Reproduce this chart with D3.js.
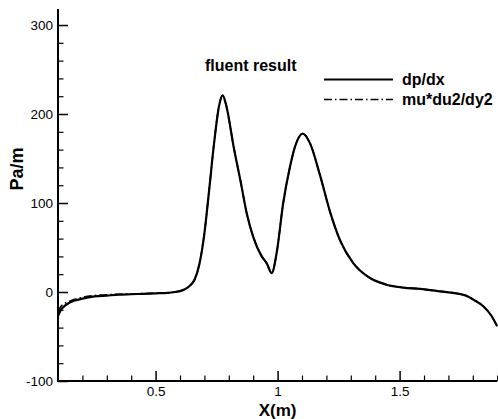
<!DOCTYPE html>
<html>
<head>
<meta charset="utf-8">
<script src="https://cdn.jsdelivr.net/npm/d3@7"></script>
<style>
  html, body { margin: 0; padding: 0; background: #fff; }
  svg { display: block; font-family: Arial, "Liberation Sans", Helvetica, sans-serif; }
</style>
</head>
<body>
<svg id="chart" width="498" height="419"></svg>
<script>
// ---- data ----
const xTicks = [0.5, 1, 1.5];
const xTickLabels = ["0.5", "1", "1.5"];
const yTicks = [-100, 0, 100, 200, 300];
const yTickLabels = ["-100", "0", "100", "200", "300"];

const xs = [0.1, 0.11, 0.13, 0.15, 0.2, 0.25, 0.3, 0.35, 0.4, 0.45, 0.5, 0.55, 0.58, 0.6, 0.62, 0.64,
  0.66, 0.68, 0.7, 0.72, 0.74, 0.76, 0.775, 0.79, 0.82, 0.85, 0.873, 0.9, 0.935, 0.955, 0.976,
  0.996, 1.023, 1.051, 1.071, 1.103, 1.133, 1.174, 1.215, 1.256, 1.31, 1.379, 1.447, 1.515,
  1.584, 1.666, 1.748, 1.78, 1.802, 1.843, 1.877, 1.9];
const dpdx = [-27, -21, -15, -11.5, -7.5, -5, -4, -3, -2.5, -2, -1.5, -1, 0, 1, 3, 7,
  14, 32, 66, 116, 168, 209, 221, 209, 163, 122, 89, 62, 40, 32.5, 21.3,
  43.7, 100, 141, 163, 178, 167, 131, 90, 58, 32.5, 15.7, 8.2, 5,
  3.5, 0.7, -2.3, -5, -8.6, -16, -27, -38.6];
const mudu2dy2 = [-22, -17, -12.5, -10, -6, -4, -3, -2.5, -2.2, -1.8, -1.4, -1, 0, 1, 3, 7,
  14, 32, 66, 116, 168, 209, 221, 209, 163, 122, 89, 62, 40, 32.5, 21.3,
  43.7, 100, 141, 163, 178, 167, 131, 90, 58, 32.5, 15.7, 8.2, 5,
  3.5, 0.7, -2.3, -5, -8.6, -16, -27, -38.6];

const seriesNames = ["dp/dx", "mu*du2/dy2"];
const titleText = "fluent result";
const xTitle = "X(m)";
const yTitle = "Pa/m";

// ---- layout ----
const svg = d3.select("#chart");
const pLeft = 58, pRight = 497.2, pTop = 9, pBottom = 381;
const x = d3.scaleLinear().domain([0.1, 1.9]).range([pLeft, pRight]);
const y = d3.scaleLinear().domain([-100, 318]).range([pBottom, pTop]);

// minor ticks
const xMinor = d3.range(0.2, 1.9001, 0.1).filter(v => !xTicks.some(t => Math.abs(t - v) < 1e-6));
const yMinor = d3.range(-80, 318, 20).filter(v => !yTicks.some(t => Math.abs(t - v) < 1e-6));

const g = svg.append("g");

// X axis (ticks pointing inward / up)
const xAxis = d3.axisBottom(x).tickValues(xTicks).tickFormat((d, i) => xTickLabels[i]).tickSizeInner(-10).tickSizeOuter(0);
const xg = g.append("g").attr("transform", `translate(0,${pBottom})`).call(xAxis);
xg.select(".domain").remove();
xg.selectAll(".tick line").attr("stroke", "#000").attr("stroke-width", 1.5);
xg.selectAll(".tick text").attr("font-size", 13.5).attr("fill", "#000").attr("dy", 0).attr("y", 15);
const xgm = g.append("g").attr("transform", `translate(0,${pBottom})`)
  .call(d3.axisBottom(x).tickValues(xMinor).tickSizeInner(-5.5).tickSizeOuter(0).tickFormat(""));
xgm.select(".domain").remove();
xgm.selectAll(".tick line").attr("stroke", "#000").attr("stroke-width", 1.2);

// Y axis (ticks pointing inward / right)
const yAxis = d3.axisLeft(y).tickValues(yTicks).tickFormat((d, i) => yTickLabels[i]).tickSizeInner(-10).tickSizeOuter(0);
const yg = g.append("g").attr("transform", `translate(${pLeft},0)`).call(yAxis);
yg.select(".domain").remove();
yg.selectAll(".tick line").attr("stroke", "#000").attr("stroke-width", 1.5);
yg.selectAll(".tick text").attr("font-size", 13.5).attr("fill", "#000").attr("x", -5).attr("text-anchor", "end");
const ygm = g.append("g").attr("transform", `translate(${pLeft},0)`)
  .call(d3.axisLeft(y).tickValues(yMinor).tickSizeInner(-5.5).tickSizeOuter(0).tickFormat(""));
ygm.select(".domain").remove();
ygm.selectAll(".tick line").attr("stroke", "#000").attr("stroke-width", 1.2);

// axis lines
g.append("line").attr("x1", pLeft).attr("x2", pLeft).attr("y1", pTop).attr("y2", pBottom + 1)
  .attr("stroke", "#000").attr("stroke-width", 2);
g.append("line").attr("x1", pLeft - 1).attr("x2", pRight).attr("y1", pBottom).attr("y2", pBottom)
  .attr("stroke", "#000").attr("stroke-width", 2);

// lines
const line = d3.line().x(d => x(d[0])).y(d => y(d[1])).curve(d3.curveMonotoneX);
const solidData = xs.map((v, i) => [v, dpdx[i]]);
const dashData = xs.map((v, i) => [v, mudu2dy2[i]]);
g.append("path").datum(solidData).attr("d", line).attr("fill", "none").attr("stroke", "#000").attr("stroke-width", 2.2);
g.append("path").datum(dashData).attr("d", line).attr("fill", "none").attr("stroke", "#000").attr("stroke-width", 1.6)
  .attr("stroke-dasharray", "8,3,1.5,3");

// axis titles
g.append("text").attr("x", x(1)).attr("y", 416).attr("text-anchor", "middle")
  .attr("font-size", 17).attr("font-weight", "bold").text(xTitle);
g.append("text").attr("transform", "translate(23,169) rotate(-90)").attr("text-anchor", "middle")
  .attr("font-size", 18).attr("font-weight", "bold").text(yTitle);

// title and legend
g.append("text").attr("x", 205).attr("y", 71).attr("font-size", 16).attr("font-weight", "bold").text(titleText);
const legY = [79.5, 99.5];
const dashes = [null, "8,3,1.5,3"];
seriesNames.forEach((name, i) => {
  const ln = g.append("line").attr("x1", 324).attr("x2", 393).attr("y1", legY[i]).attr("y2", legY[i])
    .attr("stroke", "#000").attr("stroke-width", i === 0 ? 2.2 : 1.6);
  if (dashes[i]) ln.attr("stroke-dasharray", dashes[i]);
  g.append("text").attr("x", 402).attr("y", legY[i] + 5.5).attr("font-size", 16).attr("font-weight", "bold").text(name);
});
</script>
</body>
</html>
